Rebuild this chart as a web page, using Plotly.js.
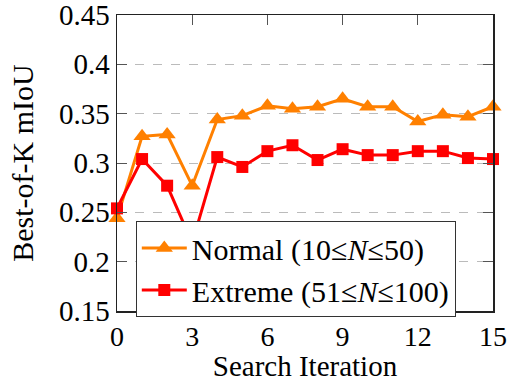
<!DOCTYPE html>
<html>
<head>
<meta charset="utf-8">
<script src="https://cdn.plot.ly/plotly-3.0.1.min.js"></script>
<style>
html,body{margin:0;padding:0;background:#fff;}
#chart{width:510px;height:382px;}
#chart svg text{font-family:"Liberation Serif" !important;}
</style>
</head>
<body>
<div id="chart"></div>
<script>
const iterations = [0,1,2,3,4,5,6,7,8,9,10,11,12,13,14,15];
const normalValues = [0.244,0.327,0.329,0.277,0.344,0.348,0.358,0.355,0.357,0.365,0.357,0.357,0.342,0.349,0.347,0.357];
const extremeValues = [0.254,0.304,0.277,0.219,0.306,0.296,0.312,0.318,0.303,0.314,0.308,0.308,0.312,0.312,0.305,0.304];
const normalName = 'Normal (10≤<i>N</i>≤50)';
const extremeName = 'Extreme (51≤<i>N</i>≤100)';
const xTickVals = [0,3,6,9,12,15];
const yTickVals = [0.15,0.2,0.25,0.3,0.35,0.4,0.45];
const yTickText = ['0.15','0.2','0.25','0.3','0.35','0.4','0.45'];

const FONT = 'Liberation Serif';

const traces = [
  {x: iterations, y: normalValues, name: normalName, type: 'scatter', mode: 'lines+markers', cliponaxis: false,
   line: {color: '#FF8000', width: 3}, marker: {symbol: 'triangle-up', size: 15, color: '#FF8000'}},
  {x: iterations, y: extremeValues, name: extremeName, type: 'scatter', mode: 'lines+markers', cliponaxis: false,
   line: {color: '#FF0000', width: 3}, marker: {symbol: 'square', size: 12, color: '#FF0000'}}
];

const layout = {
  width: 510, height: 382,
  margin: {l: 117, r: 17, t: 15, b: 71},
  paper_bgcolor: '#fff', plot_bgcolor: '#fff',
  font: {family: FONT, size: 28, color: '#000'},
  showlegend: true,
  legend: {x: 0.05, y: 0.304, xanchor: 'left', yanchor: 'top',
    bgcolor: '#fff', bordercolor: '#333', borderwidth: 1,
    font: {family: FONT, size: 30, color: '#000'}, itemwidth: 45, tracegroupgap: 0},
  xaxis: {range: [0, 15], tickvals: xTickVals, ticks: 'inside', ticklen: 10, tickcolor: '#555', tickwidth: 1,
    showline: true, linecolor: '#222', linewidth: 1.5, mirror: 'ticks', showgrid: false, zeroline: false,
    ticklabeloverflow: 'allow',
    title: {text: 'Search Iteration', font: {family: FONT, size: 29, color: '#000'}, standoff: 8},
    tickfont: {family: FONT, size: 28, color: '#000'}},
  yaxis: {range: [0.15, 0.45], tickvals: yTickVals, ticktext: yTickText, ticks: 'inside', ticklen: 10, tickcolor: '#555', tickwidth: 1,
    showline: true, linecolor: '#222', linewidth: 1.5, mirror: 'ticks', showgrid: true, gridcolor: '#bbb', griddash: 'dash', gridwidth: 1,
    zeroline: false, ticklabeloverflow: 'allow',
    title: {text: 'Best-of-K mIoU', font: {family: FONT, size: 30, color: '#000'}, standoff: 16},
    tickfont: {family: FONT, size: 29, color: '#000'}}
};

Plotly.newPlot('chart', traces, layout, {displayModeBar: false, staticPlot: true});
</script>
</body>
</html>
